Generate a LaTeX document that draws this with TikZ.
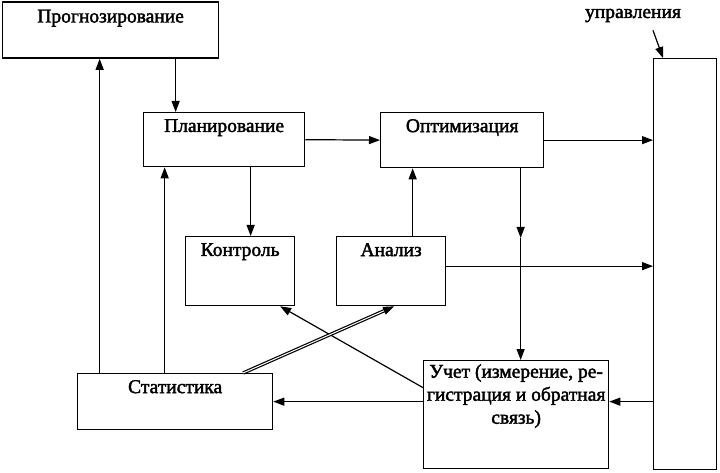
\documentclass[tikz,border=0pt]{standalone}
\usepackage{fontspec}
\setmainfont{Liberation Serif}
\newfontfamily\scanfont{Liberation Serif}[FakeBold=2]
\usepackage{tikz}
\usetikzlibrary{arrows.meta,positioning}
\tikzset{
    plain-box/.style = {draw, line width=1.3pt, rectangle, inner sep=0pt, anchor=north west},
    box-title/.style = {inner sep=0pt, align=center, font=\scanfont\fontsize{19.5}{23}\selectfont},
    flow-arrow/.style = {draw, line width=1.2pt, -{Triangle[length=11pt,width=8pt]}},
}

\begin{document}
\begin{tikzpicture}[x=1pt,y=-1pt]
\useasboundingbox (0,0) rectangle (720,473);
% boxes
\node [plain-box, minimum width=216pt, minimum height=56pt] (prog) at (2,1.5) {};
\node [plain-box, minimum width=161pt, minimum height=54pt] (plan) at (143,112) {};
\node [plain-box, minimum width=163pt, minimum height=55pt] (opt) at (380,112) {};
\node [plain-box, minimum width=109pt, minimum height=69pt] (kontr) at (185,236) {};
\node [plain-box, minimum width=109pt, minimum height=69pt] (anal) at (336,236) {};
\node [plain-box, minimum width=195pt, minimum height=56pt] (stat) at (77,373) {};
\node [plain-box, minimum width=185pt, minimum height=108pt] (uchet) at (423,360) {};
\node [plain-box, minimum width=63pt, minimum height=411pt] (obj) at (653,58) {};
% titles
\node [box-title, below=8pt] (prog-t) at (prog.north) {Прогнозирование};
\node [box-title, below=7pt] (plan-t) at (plan.north) {Планирование};
\node [box-title, below=7pt] (opt-t) at (opt.north) {Оптимизация};
\node [box-title, below=7pt] (kontr-t) at (kontr.north) {Контроль};
\node [box-title, below=7pt] (anal-t) at (anal.north) {Анализ};
\node [box-title, below=7pt] (stat-t) at (stat.north) {Статистика};
\node [box-title, below=4pt] (uchet-t) at (uchet.north) {Учет (измерение, ре-\\гистрация и обратная\\связь)};
\node [box-title, anchor=base] (obj-t) at (633,18) {управления};
% connectors
\coordinate (p1) at ([xshift=-48.5pt]plan.north);
\coordinate (p2) at ([xshift=-75.5pt]stat.north);
\coordinate (p3) at ([xshift=-10.5pt]stat.north);
\coordinate (p4) at ([xshift=10.5pt]kontr.north);
\coordinate (p5) at ([xshift=21.5pt]anal.north);
\coordinate (p6) at ([xshift=4.5pt]uchet.north);
\coordinate (p7) at ([yshift=5pt]anal.east);
\coordinate (mid-arr) at (p6 |- 0,238);
\draw [flow-arrow] (p1 |- prog.south) -- (p1);
\draw [flow-arrow] (p2) -- (p2 |- prog.south);
\draw [flow-arrow] (p3) -- (p3 |- plan.south);
\draw [flow-arrow] (p4 |- plan.south) -- (p4);
\draw [flow-arrow] (plan.east) -- (opt.west);
\draw [flow-arrow] (opt.east) -- (opt.east -| obj.west);
\draw [flow-arrow] (p5) -- (p5 |- opt.south);
\draw [flow-arrow] (p6 |- opt.south) -- (mid-arr);
\draw [flow-arrow] (mid-arr) -- (p6);
\draw [flow-arrow] (p7) -- (p7 -| obj.west);
\draw [flow-arrow] (obj.west |- stat.east) -- (uchet.east |- stat.east);
\draw [flow-arrow] (uchet.west |- stat.east) -- (stat.east);
\draw [flow-arrow] ([yshift=27pt]uchet.west) -- ([xshift=40pt]kontr.south);
\draw [flow-arrow, double, double distance=1pt] ([xshift=68pt]stat.north) -- ([xshift=3pt]anal.south);
\draw [flow-arrow] ([xshift=20pt,yshift=-8pt]obj-t.south) -- ([xshift=10pt]obj.north west);
\end{tikzpicture}
\end{document}
